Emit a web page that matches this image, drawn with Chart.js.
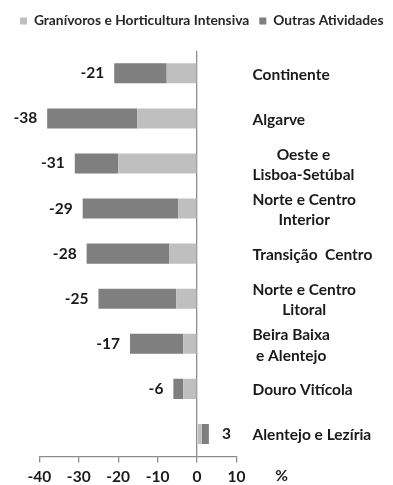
<!DOCTYPE html>
<html>
<head>
<meta charset="utf-8">
<script src="https://cdn.jsdelivr.net/npm/chart.js@4/dist/chart.umd.min.js"></script>
<style>
  html, body { margin: 0; padding: 0; background: #fff; }
  #wrap { width: 393px; height: 485px; }
</style>
</head>
<body>
<div id="wrap"><canvas id="c" width="393" height="485"></canvas></div>
<script>
// Regions (multi-line names are given as arrays of lines)
const regions = [
  ['Continente'],
  ['Algarve'],
  ['Oeste e', 'Lisboa-Setúbal'],
  ['Norte e Centro', 'Interior'],
  ['Transição  Centro'],
  ['Norte e Centro', 'Litoral'],
  ['Beira Baixa', 'e Alentejo'],
  ['Douro Vitícola'],
  ['Alentejo e Lezíria']
];
const seriesNames = ['Granívoros e Horticultura Intensiva', 'Outras Atividades'];
const granivoros = [-7.7, -15.2, -20, -4.8, -7, -5.3, -3.5, -3.5, 1.2];
const outras     = [-13.3, -22.8, -11, -24.2, -21, -19.7, -13.5, -2.5, 1.8];
const totals     = [-21, -38, -31, -29, -28, -25, -17, -6, 3];
const xTicks     = [-40, -30, -20, -10, 0, 10];
const unitLabel  = '%';

const FONT = 'Lato';
const AXIS_GREY = '#8c8c8c';
const TEXT = '#1a1a1a';

// Keep the legend on one row and leave room between it and the plot
const legendGap = {
  id: 'legendGap',
  beforeInit(chart) {
    const lg = chart.legend;
    if (!lg) return;
    const fit = lg.fit;
    lg.fit = function () {
      const mw = this.maxWidth;
      this.maxWidth = mw + 40;
      fit.call(this);
      this.maxWidth = mw;
      this.width = Math.min(this.width, mw);
      this.height += 13;
    };
    const draw = lg.draw;
    lg.draw = function () {
      const r = this.right;
      this.right = r + 40;
      draw.call(this);
      this.right = r;
    };
  }
};

// Region names to the right of the plot, totals beside each bar, unit label
const annotations = {
  id: 'annotations',
  afterDraw(chart) {
    const { ctx, chartArea } = chart;
    const xs = chart.scales.x;
    const ys = chart.scales.y;
    ctx.save();
    ctx.fillStyle = TEXT;
    ctx.textBaseline = 'middle';

    // region names
    ctx.font = `bold 15.5px ${FONT}`;
    ctx.textAlign = 'center';
    const left = chartArea.right + 16;
    const lh = 20.5;
    regions.forEach((lines, i) => {
      const y = ys.getPixelForValue(i) + 1.5;
      const w = Math.max(...lines.map(l => ctx.measureText(l).width));
      const cx = left + w / 2;
      lines.forEach((line, j) => {
        ctx.fillText(line, cx, y + (j - (lines.length - 1) / 2) * lh);
      });
    });

    // totals
    totals.forEach((v, i) => {
      const y = ys.getPixelForValue(i);
      const x = xs.getPixelForValue(v);
      if (v < 0) {
        ctx.textAlign = 'right';
        ctx.fillText(String(v), x - 10, y);
      } else {
        ctx.textAlign = 'left';
        ctx.fillText(String(v), x + 13, y);
      }
    });

    // unit label
    ctx.textAlign = 'center';
    ctx.fillText(unitLabel, chartArea.right + 45, 476);
    ctx.restore();
  }
};

new Chart(document.getElementById('c'), {
  type: 'bar',
  data: {
    labels: regions,
    datasets: [
      { label: seriesNames[0], data: granivoros, backgroundColor: '#bfbfbf' },
      { label: seriesNames[1], data: outras, backgroundColor: '#7f7f7f' }
    ]
  },
  options: {
    indexAxis: 'y',
    responsive: false,
    animation: false,
    events: [],
    layout: { padding: { left: 10, top: 4, right: 0, bottom: 0 } },
    datasets: { bar: { barPercentage: 0.445, categoryPercentage: 1, borderWidth: 0 } },
    scales: {
      x: {
        type: 'linear',
        position: 'bottom',
        stacked: true,
        min: -40,
        max: 10,
        afterBuildTicks: s => { s.ticks = xTicks.map(v => ({ value: v })); },
        afterFit: s => { s.height = 28.5; },
        grid: {
          color: c => (c.tick && c.tick.value === 0 ? AXIS_GREY : 'rgba(0,0,0,0)'),
          tickColor: AXIS_GREY,
          tickLength: 6,
          lineWidth: 1.3
        },
        border: { display: true, color: AXIS_GREY, width: 1.3 },
        ticks: {
          padding: 5,
          color: TEXT,
          font: { family: FONT, size: 15.5, weight: 'bold' }
        }
      },
      y: {
        type: 'category',
        position: 'right',
        stacked: true,
        afterFit: s => { s.width = 156.5; },
        grid: { display: false },
        border: { display: false },
        ticks: { display: false }
      },
      pad: {
        type: 'linear',
        position: 'left',
        afterFit: s => { s.width = 29.3; },
        grid: { display: false },
        border: { display: false },
        ticks: { display: false }
      }
    },
    plugins: {
      legend: {
        position: 'top',
        align: 'start',
        labels: {
          boxWidth: 7,
          boxHeight: 7,
          padding: 10,
          color: '#262626',
          font: { family: FONT, size: 13.8, weight: 'bold' }
        }
      },
      tooltip: { enabled: false }
    }
  },
  plugins: [legendGap, annotations]
});
</script>
</body>
</html>
